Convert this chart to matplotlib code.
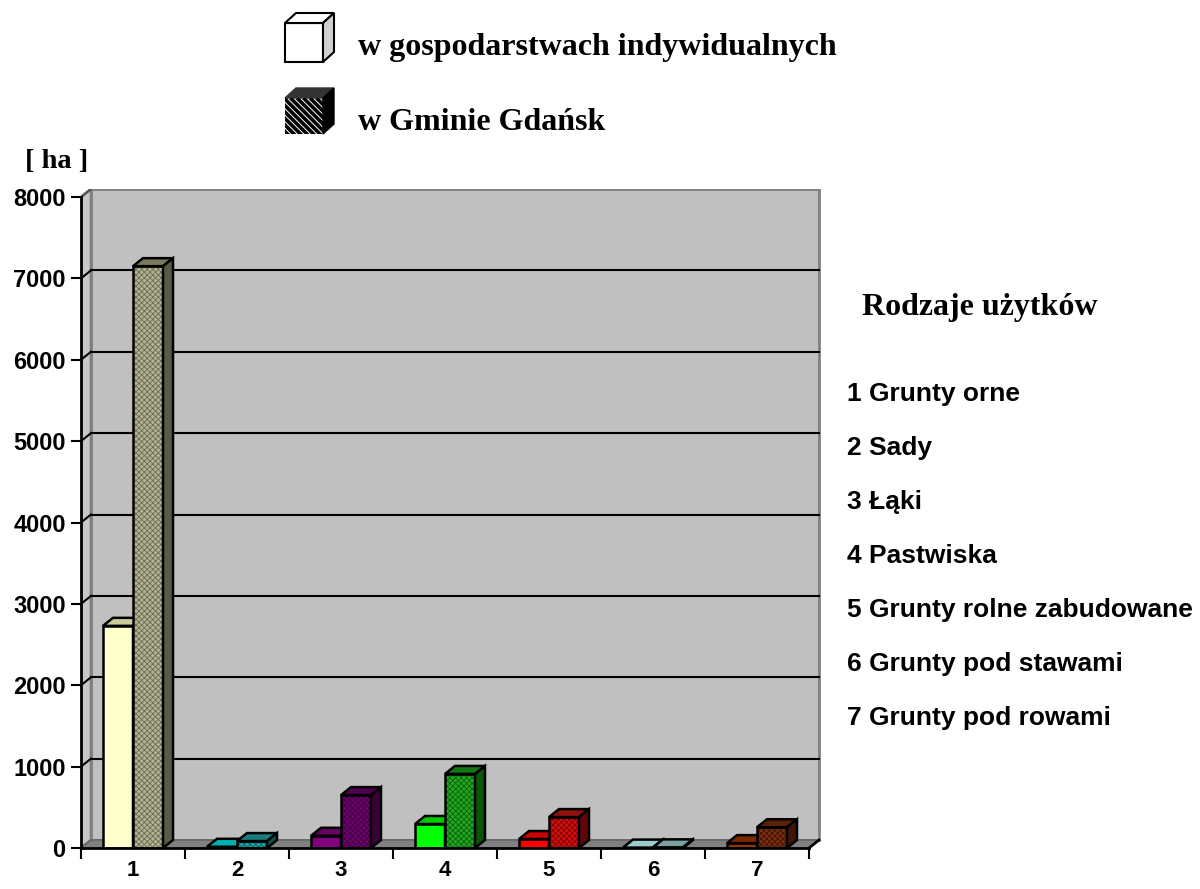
import numpy as np
import matplotlib.pyplot as plt
from matplotlib.patches import Polygon, Rectangle

plt.rcParams['hatch.linewidth'] = 0.6

# data
categories = ['1', '2', '3', '4', '5', '6', '7']
indywidualne = [2730, 15, 150, 295, 110, 5, 60]
gmina = [7150, 85, 650, 910, 380, 8, 255]
y_ticks = [0, 1000, 2000, 3000, 4000, 5000, 6000, 7000, 8000]
rodzaje = ['1 Grunty orne', '2 Sady', '3 Łąki', '4 Pastwiska',
           '5 Grunty rolne zabudowane', '6 Grunty pod stawami',
           '7 Grunty pod rowami']

# colours: (front, top) for the light bar, (front, top, side, hatch) for the dark bar
light_cols = [('#FFFFCC', '#CCCC99'), ('#00C8C8', '#00B0B0'), ('#800080', '#660066'),
              ('#00FF00', '#00CC00'), ('#FF0000', '#CC0000'), ('#A8D8D8', '#99CCCC'),
              ('#993300', '#7A2900')]
dark_cols = [('#B4B494', '#7A7A60', '#5A5A48', '#6A6A50'),
             ('#12A6A6', '#1A7C7C', '#0E5656', '#066060'),
             ('#700070', '#500050', '#3A003A', '#3A003A'),
             ('#22A822', '#127812', '#0B550B', '#0A600A'),
             ('#D01010', '#901010', '#600808', '#800000'),
             ('#8AB0B0', '#7AA0A0', '#557070', '#506868'),
             ('#7A3010', '#5A2008', '#401505', '#401000')]

fig = plt.figure(figsize=(12, 8.89), dpi=100)
W, H = 1200, 889
px_x = 104.0          # pixels per category
y0_px, ymax_px = 848, 197
px_y = (y0_px - ymax_px) / 8000.0
ox = 10 / px_x        # depth offset in data units
oy = 8 / px_y

left_px, right_px, top_px = 81, 823, 189
ax = fig.add_axes([left_px / W, (H - y0_px) / H, (right_px - left_px) / W, (y0_px - top_px) / H])
ax.set_xlim(0.5, 0.5 + (right_px - left_px) / px_x)
ax.set_ylim(0, 8000 + oy)
for s in ax.spines.values():
    s.set_visible(False)
ax.patch.set_alpha(0)

# walls and floor
ax.add_patch(Rectangle((0.5 + ox, oy), 7, 8000, facecolor='#C0C0C0', edgecolor='#808080', lw=2, zorder=1))
ax.add_patch(Polygon([(0.5, 0), (0.5 + ox, oy), (0.5 + ox, 8000 + oy), (0.5, 8000)],
                     facecolor='#C8C8C8', edgecolor='#808080', lw=2, zorder=1))
ax.add_patch(Polygon([(0.5, 0), (7.5, 0), (7.5 + ox, oy), (0.5 + ox, oy)],
                     facecolor='#808080', edgecolor='#606060', lw=1, zorder=1))
for v in y_ticks[1:-1]:
    ax.plot([0.5 + ox, 7.5 + ox], [v + oy, v + oy], color='black', lw=1.5, zorder=2)
    ax.plot([0.5, 0.5 + ox], [v, v + oy], color='black', lw=1.5, zorder=2)
ax.plot([0.5, 0.5 + ox], [8000, 8000 + oy], color='#505050', lw=1.5, zorder=2)

# axis lines
ax.plot([0.5, 0.5], [0, 8000], color='black', lw=2, zorder=6, clip_on=False)
ax.plot([0.5, 7.5], [0, 0], color='black', lw=2, zorder=6, clip_on=False)
ax.plot([7.5, 7.5 + ox], [0, oy], color='black', lw=2, zorder=6, clip_on=False)


def bar3d(x0, w, h, front, top, side, hatch=None, hcol=None, z=3):
    if hatch:
        ax.bar(x0, h, width=w, align='edge', color=front, hatch=hatch, edgecolor=hcol, lw=0, zorder=z)
        ax.bar(x0, h, width=w, align='edge', fill=False, edgecolor='black', lw=1.8, zorder=z)
    else:
        ax.bar(x0, h, width=w, align='edge', color=front, edgecolor='black', lw=1.8, zorder=z)
    ax.add_patch(Polygon([(x0, h), (x0 + w, h), (x0 + w + ox, h + oy), (x0 + ox, h + oy)],
                         facecolor=top, edgecolor='black', lw=1.8, zorder=z))
    ax.add_patch(Polygon([(x0 + w, 0), (x0 + w + ox, oy), (x0 + w + ox, h + oy), (x0 + w, h)],
                         facecolor=side, edgecolor='black', lw=1.8, zorder=z))


bw = 30 / px_x
x = np.arange(1, len(categories) + 1)
for i in range(len(categories)):
    lf, lt = light_cols[i]
    df, dt, ds, dh = dark_cols[i]
    bar3d(x[i] - bw, bw, indywidualne[i], lf, lt, lt, z=3)
    bar3d(x[i], bw, gmina[i], df, dt, ds, hatch='xxxxxx', hcol=dh, z=4)

# ticks
ax.set_yticks(y_ticks)
ax.set_yticklabels([str(v) for v in y_ticks], fontsize=17, fontweight='bold', family='Liberation Sans')
ax.tick_params(axis='y', direction='out', length=7, width=1.5, pad=4)
ax.set_xticks(x)
ax.set_xticklabels(categories, fontsize=16, fontweight='bold', family='Liberation Sans')
ax.tick_params(axis='x', length=0, pad=9)
ax.set_xticks(np.arange(0.5, 8, 1), minor=True)
ax.tick_params(axis='x', which='minor', direction='out', length=8, width=1.5)

# overlay for legend and texts (pixel coordinates)
ov = fig.add_axes([0, 0, 1, 1])
ov.set_xlim(0, W)
ov.set_ylim(H, 0)
ov.axis('off')
ov.patch.set_alpha(0)

# legend cube 1
ov.add_patch(Rectangle((285, 23), 38, 39, facecolor='white', edgecolor='black', lw=1.5))
ov.add_patch(Polygon([(285, 23), (323, 23), (334, 13), (296, 13)], facecolor='white', edgecolor='black', lw=1.5))
ov.add_patch(Polygon([(323, 23), (334, 13), (334, 52), (323, 62)], facecolor='#D0D0D0', edgecolor='black', lw=1.5))
# legend cube 2 (striped front)
front2 = Rectangle((285, 98), 38, 36, facecolor='white', edgecolor='none')
ov.add_patch(front2)
for s in np.arange(-40, 40, 6.5):
    ln, = ov.plot([285 + s, 285 + s + 40], [98, 138], color='black', lw=2.6, solid_capstyle='butt')
    ln.set_clip_path(front2)
ov.add_patch(Polygon([(285, 98), (323, 98), (334, 88), (296, 88)], facecolor='#333333', edgecolor='#333333', lw=1))
ov.add_patch(Polygon([(323, 98), (334, 88), (334, 124), (323, 134)], facecolor='black', edgecolor='black', lw=1))

serif = dict(family='Liberation Serif', fontweight='bold')
ov.text(358, 48, 'w gospodarstwach indywidualnych', fontsize=23, va='center', ha='left', **serif)
ov.text(358, 122, 'w Gminie Gdańsk', fontsize=23, va='center', ha='left', **serif)
ov.text(25, 161, '[ ha ]', fontsize=20.5, va='center', ha='left', **serif)
ov.text(862, 308, 'Rodzaje użytków', fontsize=23, va='center', ha='left', **serif)

for k, t in enumerate(rodzaje):
    ov.text(847, 394 + k * 54, t, fontsize=19, va='center', ha='left',
            family='Liberation Sans', fontweight='bold')

fig.savefig('out.png', dpi=100)
